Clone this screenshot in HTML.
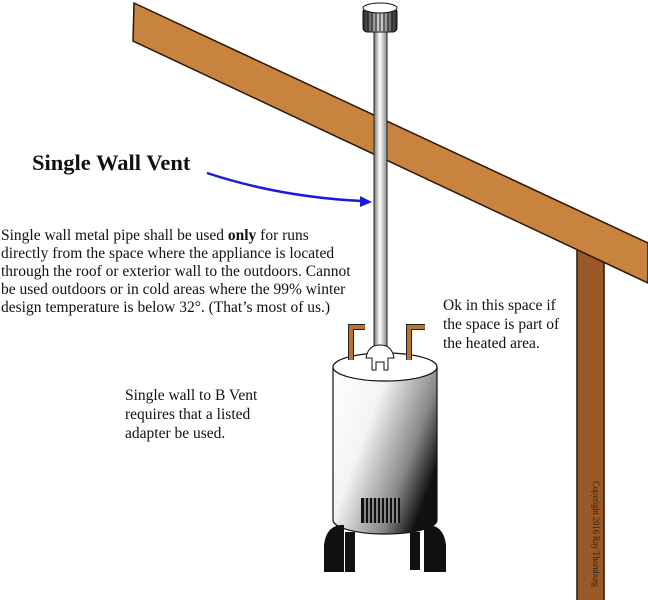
<!DOCTYPE html>
<html><head><meta charset="utf-8"><style>
body{margin:0;background:#fff;}
svg{display:block;}
text{font-family:"Liberation Serif",serif;fill:#111;}
</style></head><body>
<svg width="648" height="600" viewBox="0 0 648 600">
<defs>
<linearGradient id="pipe" x1="0" x2="1"><stop offset="0" stop-color="#777"/><stop offset="0.45" stop-color="#fff"/><stop offset="1" stop-color="#888"/></linearGradient>
<linearGradient id="tank" x1="0" y1="0" x2="1" y2="0.6"><stop offset="0" stop-color="#fff"/><stop offset="0.4" stop-color="#f4f4f4"/><stop offset="0.78" stop-color="#888"/><stop offset="1" stop-color="#111"/></linearGradient>
<linearGradient id="cap" x1="0" x2="1"><stop offset="0" stop-color="#222"/><stop offset="0.5" stop-color="#ddd"/><stop offset="1" stop-color="#222"/></linearGradient>
</defs>
<rect x="577" y="250" width="27" height="352" fill="#9a5a28" stroke="#2a1608" stroke-width="1.5"/>
<text transform="translate(593,481) rotate(90)" font-size="9" textLength="106" lengthAdjust="spacingAndGlyphs" style="fill:#222">Copyright 2016 Ray Thornburg</text>
<polygon points="134,3 648,243 648,283 133,41" fill="#c8843f" stroke="#2a1608" stroke-width="1.5"/>
<rect x="374" y="32" width="13" height="318" fill="url(#pipe)" stroke="#222" stroke-width="1"/>
<rect x="363" y="8" width="34" height="24" rx="4" fill="url(#cap)" stroke="#111"/>
<g stroke="#111" stroke-width="1">
<line x1="368" y1="10" x2="368" y2="31"/><line x1="372" y1="10" x2="372" y2="31"/><line x1="376" y1="10" x2="376" y2="31"/><line x1="380" y1="10" x2="380" y2="31"/><line x1="384" y1="10" x2="384" y2="31"/><line x1="388" y1="10" x2="388" y2="31"/><line x1="392" y1="10" x2="392" y2="31"/>
</g>
<ellipse cx="380" cy="8" rx="17" ry="5" fill="#fff" stroke="#111"/>
<path d="M333,367 L333,520 A52,14 0 0 0 437,520 L437,367 Z" fill="url(#tank)" stroke="#111" stroke-width="1.2"/>
<ellipse cx="385" cy="367" rx="52" ry="14" fill="#fff" stroke="#111" stroke-width="1.2"/>
<path d="M324,572 L324,545 Q326,527 340,525 L344,525 L344,572 Z" fill="#111"/>
<rect x="345" y="532" width="10" height="40" fill="#111"/>
<rect x="410" y="532" width="10" height="38" fill="#111"/>
<path d="M446,572 L446,545 Q444,527 430,525 L424,525 L424,572 Z" fill="#111"/>
<rect x="361" y="498" width="39" height="25" fill="#111"/>
<g stroke="#fff" stroke-width="1"><line x1="365" y1="498" x2="365" y2="523"/><line x1="369" y1="498" x2="369" y2="523"/><line x1="373" y1="498" x2="373" y2="523"/><line x1="377" y1="498" x2="377" y2="523"/><line x1="381" y1="498" x2="381" y2="523"/><line x1="385" y1="498" x2="385" y2="523"/><line x1="389" y1="498" x2="389" y2="523"/><line x1="393" y1="498" x2="393" y2="523"/><line x1="397" y1="498" x2="397" y2="523"/></g>
<path d="M351,360 L351,327 L365,327" fill="none" stroke="#222" stroke-width="6"/>
<path d="M351,360 L351,327 L365,327" fill="none" stroke="#b87333" stroke-width="4"/>
<path d="M409,360 L409,327 L425,327" fill="none" stroke="#222" stroke-width="6"/>
<path d="M409,360 L409,327 L425,327" fill="none" stroke="#b87333" stroke-width="4"/>
<path d="M366,358 Q368,345 380,345 Q392,345 394,358 L388,358 L388,370 L384,370 L384,362 L376,362 L376,370 L372,370 L372,358 Z" fill="#fff" stroke="#111"/>
<path d="M207,173 Q280,197 362,201" fill="none" stroke="#1a1ad8" stroke-width="2.5"/>
<polygon points="372,202 360,196 360,207" fill="#1a1ad8"/>
<text x="32" y="170" font-size="22.5" font-weight="bold">Single Wall Vent</text>
<g font-size="15.5">
<text x="1" y="240">Single wall metal pipe shall be used <tspan font-weight="bold">only</tspan> for runs</text>
<text x="1" y="258">directly from the space where the appliance is located</text>
<text x="1" y="276">through the roof or exterior wall to the outdoors. Cannot</text>
<text x="1" y="294">be used outdoors or in cold areas where the 99% winter</text>
<text x="1" y="312">design temperature is below 32°. (That’s most of us.)</text>
<text x="443" y="310">Ok in this space if</text>
<text x="443" y="329">the space is part of</text>
<text x="443" y="348">the heated area.</text>
<text x="125" y="400">Single wall to B Vent</text>
<text x="125" y="419">requires that a listed</text>
<text x="125" y="438">adapter be used.</text>
</g>
</svg>
</body></html>
